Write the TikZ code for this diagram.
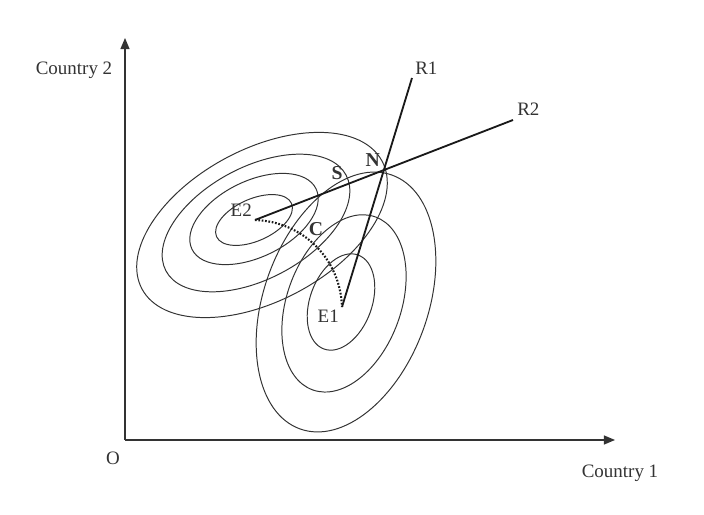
\documentclass[tikz,border=0pt]{standalone}
\usepackage{fontspec}
\setmainfont{Liberation Serif}
\usetikzlibrary{arrows.meta}

\begin{document}
\begin{tikzpicture}[
	every node/.style={ font=\fontsize{13.5}{15}\selectfont, text=black!80 },
	point/.style={ inner sep=0pt, minimum size=0pt },
	axis/.style={ black!80, line width=0.9pt, -{Triangle[length=8pt,width=6.5pt]} },
	curve/.style={ black!80, line width=0.7pt },
	reaction/.style={ black!90, line width=1.3pt },
	contract/.style={ black!90, line width=1.5pt, dash pattern=on 1.2pt off 1.2pt },
	lbl/.style={ font=\fontsize{14}{16}\selectfont\bfseries }
]
\useasboundingbox (0,0) rectangle (17.6,12.875);

\node at (3.125,1.875) (orig) [point] {};
\coordinate (ytop) at (3.125,11.925);
\coordinate (xend) at (15.375,1.875);
\draw[axis] (orig.center) to (ytop);
\draw[axis] (orig.center) to (xend);
\node at (1.85,11.125) (ylab) {Country 2};
\node at (15.5,1.05) (xlab) {Country 1};
\node at (2.825,1.425) (olab) {O};

% indifference curves of country 2
\draw[curve, shift={(6.35,7.375)}, rotate=24] (0,0) ellipse (1.025 and 0.525);
\draw[curve, shift={(6.35,7.4)}, rotate=26] (0,0) ellipse (1.725 and 0.95);
\draw[curve, shift={(6.4,7.3)}, rotate=28] (0,0) ellipse (2.55 and 1.4);
\draw[curve, shift={(6.55,7.25)}, rotate=28] (0,0) ellipse (3.4 and 1.9);

% indifference curves of country 1
\draw[curve, shift={(8.525,5.325)}, rotate=70] (0,0) ellipse (1.25 and 0.775);
\draw[curve, shift={(8.6,5.29)}, rotate=70] (0,0) ellipse (2.3 and 1.425);
\draw[curve, shift={(8.65,5.325)}, rotate=70] (0,0) ellipse (3.375 and 2.05);

\node at (6.375,7.375) (e2) [point,label={[label distance=-2pt]above left:E2}] {};
\node at (8.55,5.2) (e1) [point,label={[label distance=-2pt]below left:E1}] {};
\node at (10.3,10.925) (r1) [point,label={[label distance=-2pt]above right:R1}] {};
\node at (12.825,9.875) (r2) [point,label={[label distance=-1pt]above right:R2}] {};

\draw[reaction] (e1.center) to (r1.center);
\draw[reaction] (e2.center) to (r2.center);
\draw[contract] (e2.center) to [out=-2,in=92] (e1.center);

\node at (9.575,8.625) (n) [point,label={[lbl,label distance=-2pt]above left:N}] {};
\node at (8.425,8.55) (s) [lbl] {S};
\node at (7.9,7.15) (c) [lbl] {C};

\end{tikzpicture}
\end{document}
